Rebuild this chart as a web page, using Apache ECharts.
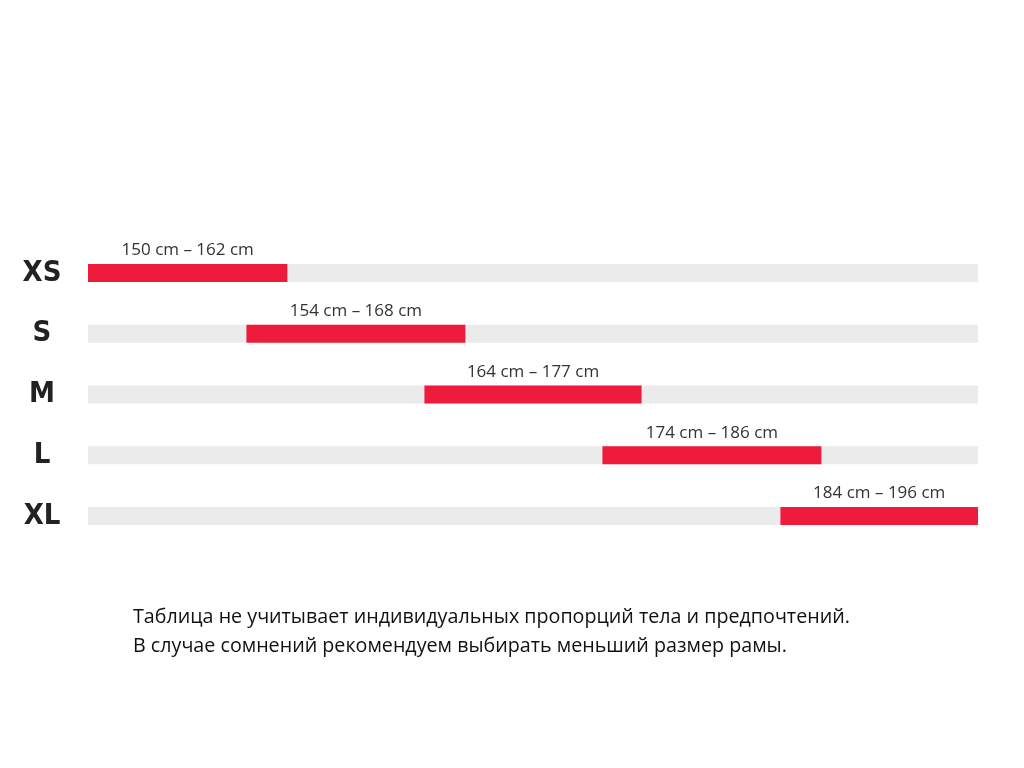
<!DOCTYPE html>
<html><head><meta charset="utf-8">
<script src="https://cdn.jsdelivr.net/npm/echarts@6/dist/echarts.min.js"></script>
<style>html,body{margin:0;padding:0;background:#fff}#c{width:1024px;height:768px}</style>
</head><body><div id="c"></div>
<script>
var sizes = ['XS', 'S', 'M', 'L', 'XL'];
var rangeLabels = ['150 cm – 162 cm', '154 cm – 168 cm', '164 cm – 177 cm', '174 cm – 186 cm', '184 cm – 196 cm'];
// schematic position of each size band on a 0–5 track
var barStart = [0, 0.89, 1.89, 2.89, 3.89];
var barEnd = [1.12, 2.12, 3.11, 4.12, 5];
var trackMax = 5;
var note = ['Таблица не учитывает индивидуальных пропорций тела и предпочтений.',
            'В случае сомнений рекомендуем выбирать меньший размер рамы.'];

var chart = echarts.init(document.getElementById('c'));
chart.setOption({
  animation: false,
  grid: {left: 88, right: 46, top: 242.6, bottom: 221.6},
  xAxis: {type: 'value', min: 0, max: trackMax, show: false},
  yAxis: {
    type: 'category', data: sizes, inverse: true,
    axisLine: {show: false}, axisTick: {show: false}, splitLine: {show: false},
    axisLabel: {align: 'center', margin: 46, fontFamily: '"DejaVu Sans Condensed", "DejaVu Sans", sans-serif', fontWeight: 'bold',
      fontSize: 29, color: '#222'}
  },
  series: [
    {type: 'bar', data: sizes.map(function(){return trackMax;}), barWidth: 18, barGap: '-100%',
      itemStyle: {color: '#ebebeb'}, silent: true},
    {type: 'bar', stack: 'r', data: barStart, barWidth: 18, itemStyle: {color: 'transparent'}, silent: true},
    {type: 'bar', stack: 'r', data: barEnd.map(function(e, i){return +(e - barStart[i]).toFixed(3);}), barWidth: 18,
      itemStyle: {color: '#ee1b3c'},
      label: {show: true, position: 'top', distance: 5, fontFamily: 'Open Sans', fontSize: 17, color: '#333',
        formatter: function(p){return rangeLabels[p.dataIndex];}}}
  ],
  graphic: [{type: 'text', left: 133, top: 603,
    style: {text: note.join('\n'), fontFamily: 'Open Sans', fontSize: 19.7, lineHeight: 29, fill: '#111'}}]
});
</script></body></html>
